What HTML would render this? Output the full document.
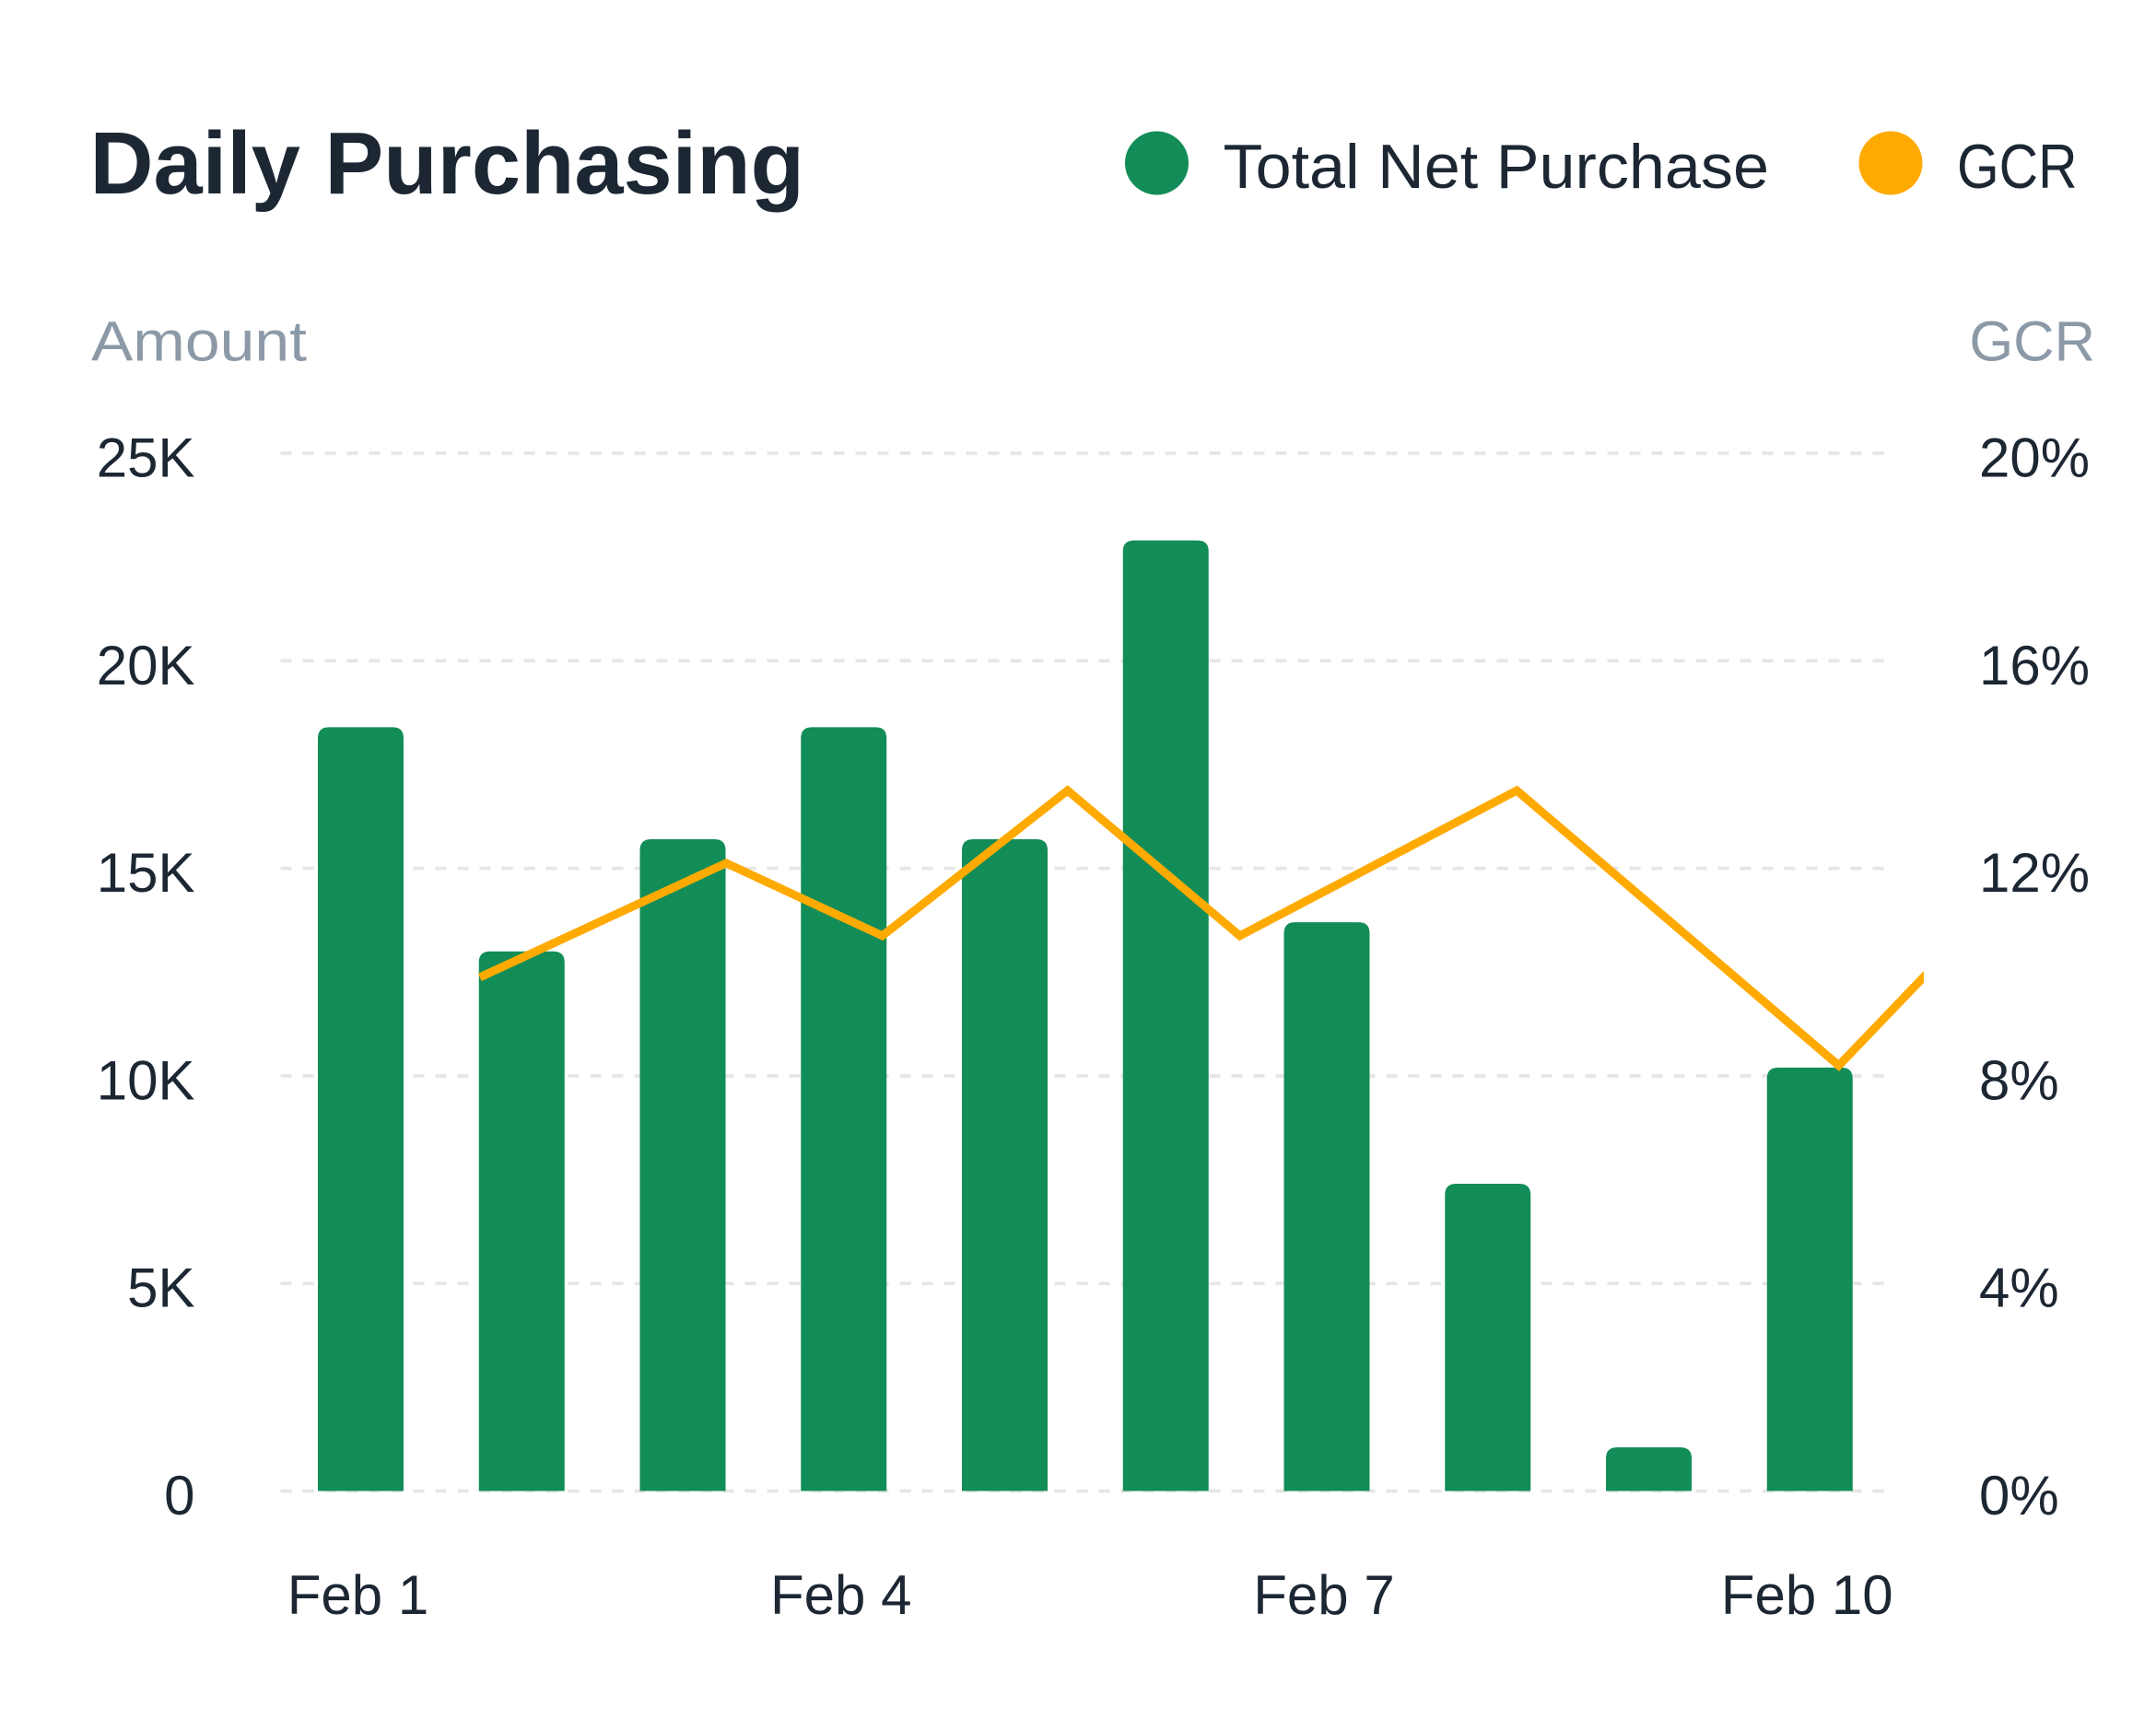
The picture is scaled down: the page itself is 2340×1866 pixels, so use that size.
<!DOCTYPE html>
<html><head><meta charset="utf-8">
<style>
html,body{margin:0;padding:0;background:#fff;}
svg{display:block;font-family:"Liberation Sans",sans-serif;}
</style></head>
<body>
<svg id="chart" width="2340" height="1866" viewBox="0 0 1560 1244" xmlns="http://www.w3.org/2000/svg">
  <rect width="1560" height="1244" fill="#fff"/>
  <text x="65" y="140" font-size="64" font-weight="bold" fill="#1c2733" textLength="517" lengthAdjust="spacingAndGlyphs">Daily Purchasing</text>
  <g>
    <circle cx="837" cy="118" r="23" fill="#138d57"/>
    <text x="885" y="136" font-size="45" fill="#1c2733" textLength="395" lengthAdjust="spacingAndGlyphs">Total Net Purchase</text>
  </g>
  <g>
    <circle cx="1368" cy="118" r="23" fill="#ffaa00"/>
    <text x="1416" y="136" font-size="45" fill="#1c2733" textLength="87" lengthAdjust="spacingAndGlyphs">GCR</text>
  </g>
  <text x="66" y="261" font-size="41" fill="#8c9aa7" textLength="156" lengthAdjust="spacingAndGlyphs">Amount</text>
  <text x="1516" y="261" font-size="41" fill="#8c9aa7" text-anchor="end">GCR</text>
  <g id="grid"></g>
  <g id="bars"></g>
  <g id="line"></g>
  <g id="ticks"></g>
</svg>
<script>
const categories = ["Feb 1","Feb 2","Feb 3","Feb 4","Feb 5","Feb 6","Feb 7","Feb 8","Feb 9","Feb 10"];
const amounts = [18400, 13000, 15700, 18400, 15700, 22900, 13700, 7400, 1050, 10200];
const gcrDays = [0.74, 2.27, 3.24, 4.39, 5.46, 7.18, 9.18, 10.2];
const gcrValues = [9.9, 12.1, 10.7, 13.5, 10.7, 13.5, 8.2, 11.5];
const leftTicks = [0, 5000, 10000, 15000, 20000, 25000];
const leftTickLabels = ["0","5K","10K","15K","20K","25K"];
const rightTicks = [0, 4, 8, 12, 16, 20];
const rightTickLabels = ["0%","4%","8%","12%","16%","20%"];
const xLabelIdx = [0, 3, 6, 9];

const NS = "http://www.w3.org/2000/svg";
const y0 = 1079, yTop = 328;
const yAmt = v => y0 - (v / 25000) * (y0 - yTop);
const yPct = v => y0 - (v / 20) * (y0 - yTop);
const xDay = d => 261 + d * 116.5;
function mk(tag, attrs, parent){const e=document.createElementNS(NS,tag);for(const k in attrs)e.setAttribute(k,attrs[k]);parent.appendChild(e);return e;}

const grid = document.getElementById('grid');
leftTicks.forEach((t,i)=>{
  const l = mk('line',{x1:203,x2:1368,y1:yAmt(t),y2:yAmt(t),stroke:'#e6e6e6','stroke-width':2.5,'stroke-dasharray':'8 8'},grid);
  
  
});
const ticks = document.getElementById('ticks');
leftTicks.forEach((t,i)=>{
  const e = mk('text',{x:141,y:yAmt(t)+17,'font-size':40,fill:'#1c2733','text-anchor':'end'},ticks);
  e.textContent = leftTickLabels[i];
  
  
});
rightTicks.forEach((t,i)=>{
  const e = mk('text',{x:1432,y:yPct(t)+17,'font-size':40,fill:'#1c2733'},ticks);
  e.textContent = rightTickLabels[i];
  
  
});
xLabelIdx.forEach(i=>{
  const e = mk('text',{x:xDay(i)-2,y:1168,'font-size':40,fill:'#1c2733','text-anchor':'middle'},ticks);
  e.textContent = categories[i];
  
  
});
const bars = document.getElementById('bars');
const bw = 62, r = 8;
amounts.forEach((v,i)=>{
  const cx = xDay(i), x = cx - bw/2, yt = yAmt(v);
  const h = y0 - yt, rr = Math.min(r, h/2);
  const d = `M${x},${y0} L${x},${yt+rr} Q${x},${yt} ${x+rr},${yt} L${x+bw-rr},${yt} Q${x+bw},${yt} ${x+bw},${yt+rr} L${x+bw},${y0} Z`;
  const p = mk('path',{d:d,fill:'#138d57'},bars);
  
  
});
const lineG = document.getElementById('line');
const clip = mk('clipPath',{id:'lc'},lineG);
mk('rect',{x:0,y:0,width:1392,height:1244},clip);
const pts = gcrDays.map((d,i)=>xDay(d)+','+yPct(gcrValues[i])).join(' ');
const pl = mk('polyline',{points:pts,fill:'none',stroke:'#ffaa00','stroke-width':6,'stroke-linejoin':'miter','clip-path':'url(#lc)'},lineG);


</script>
</body></html>
